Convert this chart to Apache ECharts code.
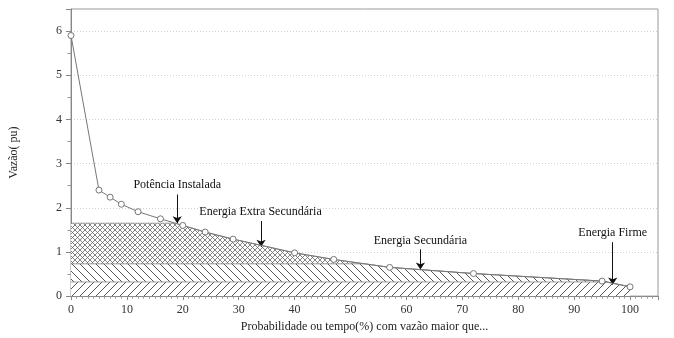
<!DOCTYPE html>
<html>
<head>
<meta charset="utf-8">
<title>Curva de permanência de vazões</title>
<script src="https://cdn.jsdelivr.net/npm/echarts@6/dist/echarts.min.js"></script>
<style>
  html, body { margin: 0; padding: 0; background: #fff; }
  #chart { width: 674px; height: 338px; }
</style>
</head>
<body>
<div id="chart"></div>
<script>
// Curva de permanência: probabilidade (%) x vazão (pu)
const probabilidade = [0, 5, 7, 9, 12, 16, 20, 24, 29, 40, 47, 57, 72, 95, 100];
const vazao = [5.9, 2.4, 2.24, 2.08, 1.91, 1.75, 1.6, 1.45, 1.29, 0.98, 0.83, 0.65, 0.51, 0.34, 0.21];

// Níveis que dividem a área sob a curva
const nivelPotenciaInstalada = 1.65;
const nivelEnergiaSecundaria = 0.73;
const nivelEnergiaFirme = 0.32;

// Rótulos das setas: texto, x, y do texto, topo e ponta da seta
const rotulos = ['Potência Instalada', 'Energia Extra Secundária', 'Energia Secundária', 'Energia Firme'];
const rotuloX = [19, 33.9, 62.5, 96.9];
const rotuloY = [2.52, 1.9, 1.26, 1.44];
const setaX = [19, 34, 62.5, 96.9];
const setaTopo = [2.3, 1.7, 1.06, 1.22];
const setaPonta = [1.65, 1.12, 0.6, 0.26];

const xTicks = [0, 10, 20, 30, 40, 50, 60, 70, 80, 90, 100];
const yTicks = [0, 1, 2, 3, 4, 5, 6];

const FONT = '"Liberation Serif", "DejaVu Serif", serif';

// Recorta a curva num nível: min(curva, nível), com os pontos de cruzamento
function recortar(xs, ys, nivel) {
  const pts = [];
  for (let i = 0; i < xs.length; i++) {
    pts.push([xs[i], Math.min(ys[i], nivel)]);
    if (i < xs.length - 1) {
      const a = ys[i] - nivel, b = ys[i + 1] - nivel;
      if (a * b < 0) {
        const t = a / (a - b);
        pts.push([xs[i] + t * (xs[i + 1] - xs[i]), nivel]);
      }
    }
  }
  return pts;
}

// Padrões de hachura desenhados em pequenos canvas
function hachura(tipo) {
  const s = tipo === 'cruz' ? 5 : 8;
  const c = document.createElement('canvas');
  c.width = s; c.height = s;
  const g = c.getContext('2d');
  g.fillStyle = '#fff';
  g.fillRect(0, 0, s, s);
  g.strokeStyle = tipo === 'cruz' ? '#666' : '#555';
  g.lineWidth = tipo === 'cruz' ? 0.8 : 1;
  g.beginPath();
  if (tipo === 'barra' || tipo === 'cruz') {
    g.moveTo(-1, s + 1); g.lineTo(s + 1, -1);
    g.moveTo(-1, 1); g.lineTo(1, -1);
    g.moveTo(s - 1, s + 1); g.lineTo(s + 1, s - 1);
  }
  if (tipo === 'contra' || tipo === 'cruz') {
    g.moveTo(-1, -1); g.lineTo(s + 1, s + 1);
    g.moveTo(s - 1, -1); g.lineTo(s + 1, 1);
    g.moveTo(-1, s - 1); g.lineTo(1, s + 1);
  }
  g.stroke();
  return { image: c, repeat: 'repeat' };
}

const chart = echarts.init(document.getElementById('chart'), null, { renderer: 'canvas' });

function faixa(nivel, padrao, z) {
  return {
    type: 'line',
    data: recortar(probabilidade, vazao, nivel),
    showSymbol: false,
    silent: true,
    z: z,
    lineStyle: { color: '#888', width: 0.8 },
    areaStyle: { color: hachura(padrao), opacity: 1 },
    emphasis: { disabled: true }
  };
}

const option = {
  animation: false,
  backgroundColor: '#fff',
  grid: {
    left: 70, right: 16, top: 9, bottom: 41,
    show: true, borderColor: '#999', borderWidth: 1, backgroundColor: 'transparent'
  },
  xAxis: {
    type: 'value',
    min: 0, max: 105, interval: 10,
    name: 'Probabilidade ou tempo(%) com vazão maior que...',
    nameLocation: 'middle',
    nameGap: 22,
    nameTextStyle: { fontFamily: FONT, fontSize: 12, color: '#222' },
    axisLine: { onZero: false, lineStyle: { color: '#888' } },
    axisTick: { show: true, length: 4, lineStyle: { color: '#888' } },
    minorTick: { show: true, splitNumber: 10, length: 2.5, lineStyle: { color: '#999' } },
    axisLabel: {
      showMaxLabel: false, margin: 8,
      fontFamily: FONT, fontSize: 12, color: '#333',
      formatter: v => (xTicks.indexOf(v) >= 0 ? String(v) : '')
    },
    splitLine: { show: false }
  },
  yAxis: {
    type: 'value',
    min: 0, max: 6.5, interval: 1,
    name: 'Vazão( pu)',
    nameLocation: 'middle',
    nameGap: 51,
    nameTextStyle: { fontFamily: FONT, fontSize: 12, color: '#222' },
    axisLine: { show: true, lineStyle: { color: '#888' } },
    axisTick: { show: true, length: 5, lineStyle: { color: '#888' } },
    minorTick: { show: true, splitNumber: 2, length: 3.5, lineStyle: { color: '#999' } },
    axisLabel: {
      showMaxLabel: false, margin: 9,
      fontFamily: FONT, fontSize: 12, color: '#333',
      formatter: v => (yTicks.indexOf(v) >= 0 ? String(v) : '')
    },
    splitLine: { show: true, lineStyle: { color: '#d0d0d0', type: [1, 2], width: 1 } }
  },
  series: [
    faixa(nivelPotenciaInstalada, 'cruz', 2),
    faixa(nivelEnergiaSecundaria, 'contra', 3),
    faixa(nivelEnergiaFirme, 'barra', 4),
    {
      type: 'line',
      name: 'Vazão',
      z: 5,
      data: probabilidade.map((x, i) => [x, vazao[i]]),
      symbol: 'circle',
      symbolSize: 6,
      showSymbol: true,
      lineStyle: { color: '#777', width: 1 },
      itemStyle: { color: '#fff', borderColor: '#777', borderWidth: 1 },
      emphasis: { disabled: true },
      markLine: {
        silent: true,
        symbol: ['none', 'arrow'],
        symbolSize: 7,
        label: { show: false },
        lineStyle: { color: '#111', width: 1, type: 'solid' },
        emphasis: { disabled: true },
        data: setaX.map((x, i) => [{ coord: [x, setaTopo[i]] }, { coord: [x, setaPonta[i]] }])
      },
      markPoint: {
        silent: true,
        symbol: 'circle',
        symbolSize: 0,
        label: {
          show: true, position: 'inside', formatter: '{b}',
          fontFamily: FONT, fontSize: 12, color: '#111'
        },
        data: rotulos.map((t, i) => ({ name: t, coord: [rotuloX[i], rotuloY[i]] }))
      }
    }
  ]
};

chart.setOption(option);
</script>
</body>
</html>
